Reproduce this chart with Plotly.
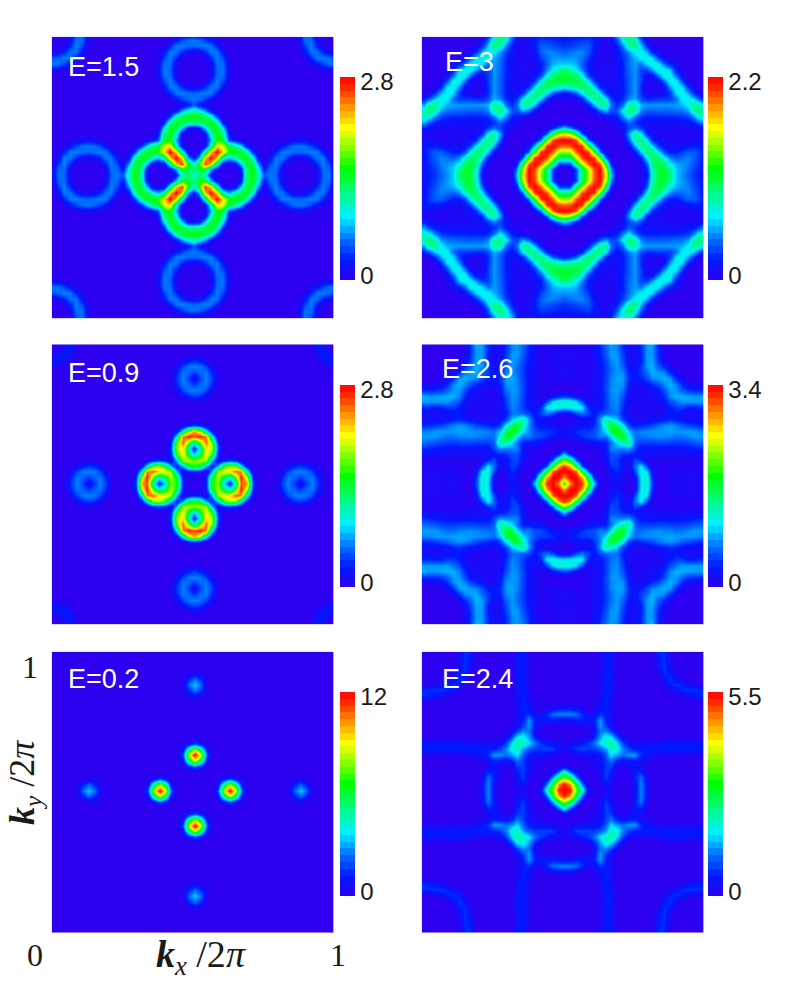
import plotly.graph_objects as go

# Values: percent of each colour bar's maximum, on one octant
# of the fourfold pattern (row = min(|dx|,|dy|), column = max(|dx|,|dy|) - row), in 1/48 steps.
E15 = [
 [33,45,35,8,0,0,0,0,5,42,55,40,18,21,19,3,0,0,0,0,0,3,19,21,6],
 [50,55,25,6,0,0,0,8,43,55,35,8,20,20,5,0,0,0,0,0,5,20,20,4],
 [95,80,38,6,3,5,28,50,50,24,3,15,22,12,1,0,0,0,1,12,22,15,2],
 [100,80,38,26,37,50,54,40,8,0,8,21,21,12,5,3,5,12,21,21,8,1],
 [100,78,56,55,53,42,15,1,0,1,11,21,22,20,19,20,22,21,11,1,0],
 [72,50,43,30,11,1,0,0,0,1,8,15,20,21,20,15,8,1,0,0],
 [15,8,2,0,0,0,0,0,0,0,2,4,6,4,2],
 [],[],[],[],[],[],[],[],[],[],[],
 [0,0,0,0,2,4,6],
 [0,2,8,15,20,21],
 [11,21,22,20,17],
 [20,11,5,3],
 [1],
]
E09 = [
 [0,0,10,56,64,29,10,38,92,85,14,0,0,0,1,14,22,14,3,14,22,14,1],
 [0,8,50,70,48,35,62,97,70,10,0,0,0,1,11,21,19,14,19,21,11,1],
 [1,25,68,77,78,90,88,35,2,0,0,0,0,5,15,21,22,21,15,5],
 [8,27,57,68,63,33,8,0,0,0,0,0,0,5,11,14,11,5],
 [2,10,14,10,2,0,0,0,0,0,0,0,0,1,1,1],
 [],[],[],[],[],[],[],[],[],[],[],[],[],[],[],
 [0,0,0,1,1],
 [0,5,9,10],
 [11,8,5],
 [2,0],
]
E02 = [
 [0,0,0,0,16,72,100,72,16,0,0,0,0,0,0,0,4,20,28,20,4],
 [0,0,0,7,45,72,45,7,0,0,0,0,0,0,0,1,11,20,11,1],
 [0,0,1,7,16,7,1,0,0,0,0,0,0,0,1,4,1],
]
E30 = [
 [0,0,15,45,65,90,100,75,30,3,0,0,0,2,8,35,50,52,46,28,23,18,13,10,7],
 [0,15,45,68,92,100,70,22,2,0,0,0,2,12,38,50,50,40,28,24,20,14,11,7],
 [45,68,90,100,92,50,10,0,0,0,0,3,18,42,50,46,32,26,23,22,16,12,7],
 [92,100,95,62,18,2,0,0,0,2,10,32,46,46,34,22,18,20,22,18,13,8],
 [95,60,20,3,0,0,0,2,8,28,44,45,32,16,10,10,14,18,18,14,9],
 [28,5,0,0,0,0,6,25,42,44,30,14,8,5,5,6,8,10,10,8],
 [0,0,0,0,2,18,40,44,30,12,6,5,3,3,3,3,4,5,5],
 [0,0,0,4,25,42,32,12,7,4,3,3,3,2,2,2,3,4],
 [2,3,8,15,20,14,6,4,4,4,4,3,3,3,4,6,10],
 [4,10,18,12,8,6,6,6,6,6,6,7,8,10,16,25],
 [22,32,20,12,10,10,10,11,11,11,12,14,22,34,35],
 [45,40,22,18,18,18,18,19,20,20,24,38,46,38],
 [42,26,24,24,24,24,24,24,26,32,44,40,25],
 [16,12,12,14,14,14,20,32,34,28,18,10],
 [3,3,3,6,14,30,34,26,12,4,1],
 [2,3,6,24,34,30,12,3],
 [5,20,34,33,16,3],
 [33,34,20,6,1],
 [28,10,2],
 [6,1],
]
E26 = [
 [55,85,100,95,65,30,3,0,5,6,3,0,5,30,36,15,1,0,3,4,4,3,3,3,3],
 [100,100,85,50,12,0,0,6,8,4,0,6,32,36,12,1,0,3,4,4,3,3,3,3],
 [92,55,20,2,0,1,8,12,6,1,16,34,30,6,0,1,3,3,3,3,3,3,3],
 [18,3,0,0,3,12,14,7,4,20,32,16,2,1,1,2,2,2,2,2,2,2],
 [0,0,1,5,16,14,7,5,16,12,4,2,2,2,2,2,2,2,2,2,3],
 [1,3,8,16,16,12,10,8,6,4,4,4,4,4,4,4,5,5,5,6],
 [3,8,22,22,22,24,15,8,8,8,8,8,8,8,8,9,10,11,12],
 [10,20,30,38,42,18,14,14,14,15,15,14,14,14,15,17,18,20],
 [30,48,55,32,20,20,21,22,23,22,22,20,20,22,24,24,24],
 [58,45,28,20,22,23,23,24,24,25,24,24,24,24,22,22],
 [32,14,10,12,14,16,20,23,24,22,18,16,14,12,12],
 [8,4,4,5,6,7,9,12,10,7,6,6,6,6],
 [3,3,3,3,4,5,8,8,6,4,4,5,5],
 [3,3,3,3,5,10,14,14,10,10,12,12],
 [4,4,4,8,16,20,24,24,24,24,24],
 [5,6,12,22,26,26,25,24,24,26],
 [8,16,24,24,18,14,12,12,12],
 [22,26,22,12,6,4,3,3],
 [24,12,4,1],
 [5,1],
]
E24 = [
 [100,98,65,38,8,0,0,4,2,0,0,0,6,22,8],
 [85,52,20,1,0,1,8,4,0,0,0,7,22,7],
 [25,4,0,0,4,14,6,0,0,1,10,20,5],
 [0,0,0,5,15,10,1,0,1,10,12,2],
 [1,2,6,14,13,3,1,3,8,4],
 [3,7,14,20,10,6,8,10,5,2,1],
 [8,18,30,24,20,24,24,12,8,6,4,3,3,2,2,2,2,2,2],
 [24,38,34,22,14,10,10,11,11,10,10,10,10,10,10,10,10,10],
 [42,30,14,6,4,4,4,5,6,8,9,9,9,8,8,8,8],
 [16,4,1],
 [],[],[],[],[],[],
 [0,0,0,0,2,6,8,10,12],
 [0,3,8,12,13,13,12,12],
 [10,13,10,6,3,2,1],
 [6,2],
]

labels = ["E=1.5", "E=3", "E=0.9", "E=2.6", "E=0.2", "E=2.4"]
octants = [E15, E30, E09, E26, E02, E24]
maxima = [2.8, 2.2, 2.8, 3.4, 12, 5.5]
max_text = ["2.8", "2.2", "2.8", "3.4", "12", "5.5"]

W, H = 795, 981
col_px = [(51.7, 333.5), (421.7, 703.5)]
row_px = [(36.7, 318.3), (344.3, 624.5), (651.7, 932.7)]
bar_x = [340, 708.3]
bar_y = [(76.7, 279.5), (385, 587), (691.7, 895.7)]
# position of the pattern centre relative to the panel centre (in panel fractions)
shift = [(2/845, 7.5/845), (4.5/845, 7.5/845), (4.5/845, 3/845),
         (4.5/845, 3/845), (6/845, 6/845), (4.5/845, 7.5/845)]
label_px = [(66, 67), (443, 62), (66, 373), (440, 369), (66, 679), (440, 679)]

stops = [(0, (45, 0, 240)), (.1, (0, 25, 255)), (.2, (0, 110, 255)), (.31, (0, 240, 255)),
         (.42, (0, 250, 140)), (.55, (0, 255, 0)), (.68, (170, 255, 0)), (.75, (255, 255, 0)),
         (.85, (255, 150, 0)), (.95, (255, 40, 0)), (1, (255, 0, 0))]


def colour_at(t):
    for (a, ca), (b, cb) in zip(stops, stops[1:]):
        if t <= b:
            f = (t - a) / (b - a)
            return "rgb(%d,%d,%d)" % tuple(round(p + (q - p) * f) for p, q in zip(ca, cb))
    return "rgb(255,0,0)"


smooth_scale = [[t, "rgb(%d,%d,%d)" % c] for t, c in stops]
LEVELS = 30
bar_scale = []
for n in range(LEVELS):
    c = colour_at((n + 0.5) / LEVELS)
    bar_scale.append([n / LEVELS, c])
    bar_scale.append([(n + 1) / LEVELS, c])


def expand(rows, vmax):
    def value(a, b):
        hi, lo = max(abs(a), abs(b)), min(abs(a), abs(b))
        if lo >= len(rows) or hi - lo >= len(rows[lo]):
            return 0
        return rows[lo][hi - lo] / 100 * vmax
    return [[value(i, j) for i in range(-24, 25)] for j in range(-24, 25)]


fig = go.Figure()
layout = {}
annotations = []
for k in range(6):
    r, c = k // 2, k % 2
    name = "" if k == 0 else str(k + 1)
    x0, x1 = col_px[c]
    y0, y1 = row_px[r]
    layout["xaxis" + name] = dict(domain=[x0 / W, x1 / W], range=[0, 1], visible=False)
    layout["yaxis" + name] = dict(domain=[1 - y1 / H, 1 - y0 / H], range=[0, 1], visible=False)
    by0, by1 = bar_y[r]
    sx, sy = shift[k]
    fig.add_trace(go.Heatmap(
        z=expand(octants[k], maxima[k]),
        x=[0.5 + sx + i / 48 for i in range(-24, 25)],
        y=[0.5 + sy + j / 48 for j in range(-24, 25)],
        xaxis="x" + name, yaxis="y" + name,
        zmin=0, zmax=maxima[k], zsmooth="best", colorscale=smooth_scale,
        hoverinfo="skip", showscale=False,
    ))
    fig.add_trace(go.Scatter(
        x=[None], y=[None], mode="markers", xaxis="x" + name, yaxis="y" + name, hoverinfo="skip",
        marker=dict(
            color=[0], cmin=0, cmax=maxima[k], colorscale=bar_scale, showscale=True,
            colorbar=dict(
                x=bar_x[c] / W, xanchor="left", xpad=0, ypad=0,
                y=1 - by0 / H, yanchor="top", len=(by1 - by0) / H, lenmode="fraction",
                thickness=15, thicknessmode="pixels", outlinewidth=0, ticks="",
                tickvals=[maxima[k] * 0.975, maxima[k] * 0.02], ticktext=[max_text[k], "0"],
                tickfont=dict(family="Liberation Sans", size=24, color="#1a1a1a"),
            ),
        ),
    ))
    lx, ly = label_px[k]
    annotations.append(dict(text=labels[k], x=lx / W, y=1 - ly / H, xref="paper", yref="paper",
                            xanchor="left", yanchor="middle", showarrow=False,
                            font=dict(family="Liberation Sans", size=27, color="white")))

serif = "Liberation Serif"
for text, px, py, size, angle in [
    ("1", 30, 667, 32, 0), ("0", 35, 955, 32, 0), ("1", 338, 955, 32, 0),
    ("<b><i>k</i></b><sub><i>x</i></sub> /2<i>π</i>", 201, 957, 38, 0),
    ("<b><i>k</i></b><sub><i>y</i></sub> /2<i>π</i>", 24, 783, 36, -90),
]:
    annotations.append(dict(text=text, x=px / W, y=1 - py / H, xref="paper", yref="paper",
                            xanchor="center", yanchor="middle", showarrow=False, textangle=angle,
                            font=dict(family=serif, size=size, color="#1a1a1a")))

fig.update_layout(width=W, height=H, margin=dict(l=0, r=0, t=0, b=0), paper_bgcolor="white",
                  plot_bgcolor="white", showlegend=False, annotations=annotations, **layout)
fig.write_html("out.html", config={"displayModeBar": False},
               post_script="document.body.style.margin='0';")
